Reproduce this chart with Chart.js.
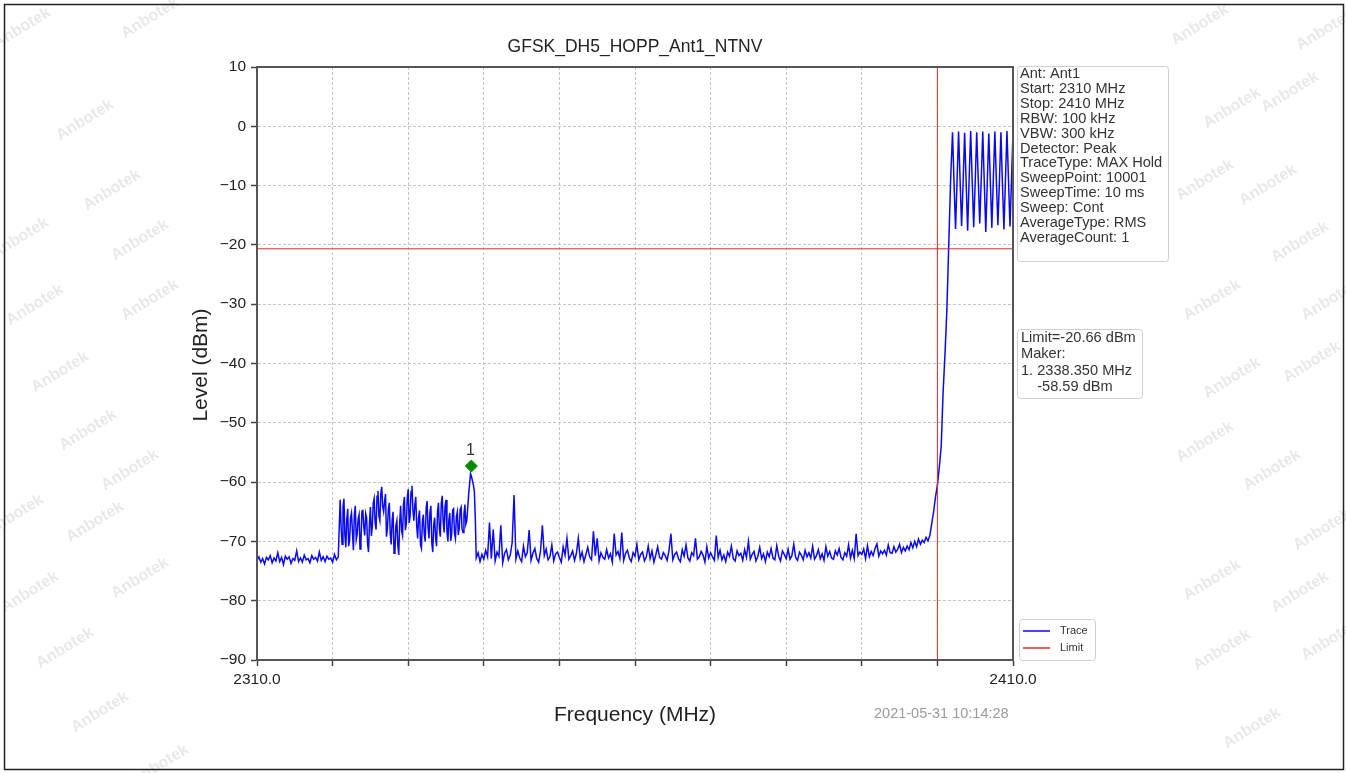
<!DOCTYPE html>
<html>
<head>
<meta charset="utf-8">
<script src="https://cdn.jsdelivr.net/npm/chart.js@4"></script>
<style>
html,body{margin:0;padding:0;background:#fff;}
canvas{display:block;}
</style>
</head>
<body>
<canvas id="c" width="1346" height="773"></canvas>
<script>
// ---------- DATA ----------
const chartTitle = "GFSK_DH5_HOPP_Ant1_NTNV";
const xTickEnds = [2310, 2410];
const yTicks = [10, 0, -10, -20, -30, -40, -50, -60, -70, -80, -90];

// Trace segments (spectrum sweep, evenly spaced within a segment)
const segFloorLowStart = 2310.0, segFloorLowStep = 0.25;
const segFloorLow = [-73.2,-72.6,-73.5,-72.9,-73.8,-72.7,-73.1,-72.4,-73.6,-72.8,-73.3,-71.9,-73.4,-72.7,-73.9,-72.5,-73.0,-72.6,-73.7,-72.9,-73.2,-71.6,-73.4,-72.8,-73.5,-72.3,-73.1,-72.9,-73.6,-72.4,-73.0,-72.7,-73.3,-71.8,-73.2,-72.6,-73.4,-72.5,-73.0,-72.8,-73.5,-72.2,-73.1,-72.6];

const segBandStart = 2321.0, segBandStep = 0.125;
const segBand = [
-63.0,-67.5,-70.5,-64.2,-62.8,-68.9,-71.0,-66.3,-64.5,-70.8,-69.8,-66.0,-65.2,-68.4,-71.5,-65.6,
-64.0,-69.7,-68.8,-66.2,-65.5,-71.3,-70.2,-64.9,-64.8,-67.6,-69.0,-65.3,-66.0,-70.4,-71.8,-67.0,
-64.2,-69.1,-67.5,-63.6,-62.8,-66.9,-68.0,-62.4,-61.5,-65.7,-66.5,-61.9,-60.8,-64.1,-65.0,-63.3,
-62.0,-69.2,-67.8,-64.6,-63.5,-68.7,-70.5,-66.4,-65.0,-72.0,-71.5,-67.3,-66.5,-70.6,-72.3,-66.8,
-64.0,-68.2,-69.0,-63.8,-62.5,-68.1,-67.0,-62.7,-61.2,-66.9,-65.8,-61.6,-60.6,-64.7,-66.5,-63.9,
-62.5,-67.4,-69.5,-65.9,-64.8,-70.6,-71.2,-66.7,-65.5,-68.8,-70.0,-64.4,-63.2,-67.7,-69.5,-65.1,
-64.0,-70.3,-71.8,-67.2,-66.0,-69.4,-70.8,-65.0,-63.5,-67.9,-69.2,-63.6,-62.3,-66.6,-68.5,-64.1,
-63.0,-68.3,-70.0,-66.4,-65.2,-69.9,-68.8,-64.7,-64.5,-68.6,-69.5,-65.8,-65.0,-68.9,-67.8,-64.6,
-64.2,-67.9,-68.5,-65.4,-63.8,-67.1,-66.5,-64.3,-62.0,-60.2,-58.6,-59.1,-59.8,-60.5,-61.5,-66.0];

const segFloorHighStart = 2339.0, segFloorHighStep = 0.25;
const segFloorHigh = [
-72.8,-71.9,-73.4,-72.2, -73.0,-71.5,-72.6,-66.8, -72.9,-68.0,-73.3,-71.8, -72.5,-67.3,-73.6,-72.0,
-71.4,-73.1,-72.3,-70.2, -62.2,-73.0,-71.6,-72.8, -73.4,-70.8,-72.6,-71.9, -68.1,-73.2,-72.0,-71.2,
-72.9,-73.5,-71.7,-67.3, -72.4,-71.3,-73.1,-72.6, -70.6,-73.3,-72.1,-71.8, -72.7,-73.5,-70.9,-72.3,
-69.5,-73.0,-72.4,-71.6, -73.2,-72.0,-69.5,-72.9, -71.8,-73.4,-72.2,-71.0, -72.6,-73.1,-68.3,-72.4,
-69.5,-73.3,-71.9,-72.7, -73.0,-71.4,-72.8,-72.1, -73.5,-68.7,-72.3,-71.7, -72.9,-68.5,-73.2,-72.0,
-71.5,-72.8,-73.4,-71.9, -72.5,-70.5,-73.1,-72.2, -71.8,-73.3,-72.6,-70.8, -72.9,-71.6,-73.5,-72.3,
-70.9,-72.7,-73.0,-71.9, -72.4,-73.2,-71.5,-68.7, -73.1,-72.2,-71.8,-72.9, -73.4,-71.4,-72.5,-70.6,
-72.8,-73.3,-71.9,-72.4, -69.5,-73.0,-72.6,-71.7, -72.3,-73.5,-70.9,-72.8, -71.9,-72.6,-73.2,-69.0,
-72.7,-71.5,-73.1,-72.3, -73.4,-71.8,-72.5,-70.8, -72.9,-73.3,-71.6,-72.4, -72.0,-73.2,-71.4,-72.7,
-70.0,-73.0,-72.2,-71.7, -73.3,-72.5,-71.0,-72.9, -72.1,-73.4,-71.8,-72.6, -71.2,-72.8,-73.1,-70.7,
-72.5,-73.3,-71.6,-72.2, -72.9,-71.3,-73.0,-72.4, -70.5,-72.7,-73.2,-71.8, -72.3,-73.1,-71.5,-72.6,
-71.9,-72.8,-70.8,-73.0, -72.4,-71.4,-72.9,-72.1, -73.2,-70.9,-72.5,-71.7, -72.8,-73.0,-71.6,-72.3,
-71.2,-72.7,-73.1,-71.9, -72.5,-70.6,-72.8,-71.5, -72.9,-68.7,-72.4,-71.8, -72.2,-71.3,-72.9,-70.7,
-72.6,-71.7,-72.4,-71.2, -70.4,-72.5,-71.6,-72.1, -71.5,-72.3,-70.6,-71.9, -72.0,-70.9,-71.8,-71.3,
-70.5,-71.9,-71.0,-71.6, -70.8,-71.4,-70.2,-71.1, -70.0,-70.9,-69.6,-70.5, -69.8,-70.2,-69.3,-69.9];

const segRampStart = 2399.0, segRampStep = 0.25;
const segRamp = [-69.0,-67.0,-65.0,-62.5,-60.5,-57.5,-54.0,-45.0,-38.5,-31.0,-20.0,-9.0];

const segHopStart = 2402.0, segHopStep = 0.2;
const segHop = [
-1.0,-9.5,-17.3,-9.2, -0.9,-9.0,-16.8,-9.6, -1.1,-9.3,-17.6,-8.9, -0.8,-9.1,-17.0,-9.4,
-1.0,-8.8,-16.4,-9.0, -0.9,-9.4,-17.8,-9.3, -1.2,-9.2,-17.1,-8.8, -0.9,-9.0,-16.7,-9.5,
-1.0,-9.6,-17.4,-9.1, -0.8,-8.9,-16.9,-9.2, -1.0];

const limitLevel = -20.66;
const limitFreq = 2400;
const markerFreq = 2338.35;
const markerPlotLevel = -57.3;
const markerLabel = "1";

const infoLines = ["Ant: Ant1","Start: 2310 MHz","Stop: 2410 MHz","RBW: 100 kHz","VBW: 300 kHz","Detector: Peak","TraceType: MAX Hold","SweepPoint: 10001","SweepTime: 10 ms","Sweep: Cont","AverageType: RMS","AverageCount: 1"];
const limitInfoLines = ["Limit=-20.66 dBm","Maker:","1. 2338.350 MHz","    -58.59 dBm"];
const timestamp = "2021-05-31 10:14:28";
const watermarkPos = [[22,28],[150,18],[85,120],[112,190],[20,238],[140,240],[35,305],[150,300],[60,372],[88,430],[15,515],[130,470],[95,522],[140,578],[30,592],[65,648],[100,712],[160,765],
[1200,25],[1325,30],[1232,108],[1290,92],[1268,185],[1205,180],[1300,242],[1212,300],[1330,300],[1232,378],[1312,362],[1205,442],[1272,470],[1322,530],[1212,580],[1300,592],[1222,650],[1330,640],[1252,728]];

// ---------- BUILD ----------
function seg(start, step, vals){ return vals.map((v,i)=>({x:+(start+i*step).toFixed(3), y:v})); }
const traceData = [].concat(
  seg(segFloorLowStart, segFloorLowStep, segFloorLow),
  seg(segBandStart, segBandStep, segBand),
  seg(segFloorHighStart, segFloorHighStep, segFloorHigh),
  seg(segRampStart, segRampStep, segRamp),
  seg(segHopStart, segHopStep, segHop)
);

const FONT = "'Liberation Sans', Arial, sans-serif";
const BLUE = '#0a0af0', RED = '#e02828', GREEN = '#008a00';

const decor = {
  id:'decor',
  beforeDraw(chart){
    const ctx = chart.ctx;
    ctx.save();
    ctx.fillStyle = '#fff';
    ctx.fillRect(0,0,chart.width,chart.height);
    ctx.font = "bold 16px " + FONT;
    ctx.fillStyle = 'rgba(190,190,190,0.35)';
    ctx.textAlign='center'; ctx.textBaseline='middle';
    watermarkPos.forEach(([x,y])=>{
      ctx.save(); ctx.translate(x,y); ctx.rotate(-0.55); ctx.fillText('Anbotek',0,0); ctx.restore();
    });
    ctx.restore();
  },
  afterDraw(chart){
    const ctx = chart.ctx, a = chart.chartArea;
    const xs = chart.scales.x, ys = chart.scales.y;
    ctx.save();
    // frame
    ctx.strokeStyle = '#555'; ctx.lineWidth = 2;
    ctx.strokeRect(a.left, a.top, a.right-a.left, a.bottom-a.top);
    // outer border
    ctx.strokeStyle = '#222'; ctx.lineWidth = 1.5;
    ctx.strokeRect(4.5, 4.5, 1339, 765);
    // title
    ctx.fillStyle = '#222'; ctx.textAlign='center'; ctx.textBaseline='middle';
    ctx.font = "17.5px " + FONT;
    ctx.fillText(chartTitle, (a.left+a.right)/2, 47);
    // axis titles
    ctx.font = "21px " + FONT;
    ctx.fillText("Frequency (MHz)", (a.left+a.right)/2, 715);
    ctx.save(); ctx.translate(201, 365); ctx.rotate(-Math.PI/2); ctx.fillText("Level (dBm)",0,0); ctx.restore();
    // timestamp
    ctx.font = "14.5px " + FONT; ctx.fillStyle = '#9a9a9a'; ctx.textAlign='left';
    ctx.fillText(timestamp, 874, 714);
    // marker label
    ctx.fillStyle = '#333'; ctx.textAlign='center'; ctx.font = "16px " + FONT;
    ctx.fillText(markerLabel, xs.getPixelForValue(markerFreq)-1, ys.getPixelForValue(markerPlotLevel)-15);
    // info box
    function box(x,y,w,h){
      ctx.save(); ctx.strokeStyle='#cfcfcf'; ctx.lineWidth=1; ctx.fillStyle='rgba(255,255,255,0.9)';
      ctx.beginPath(); ctx.roundRect(x+0.5,y+0.5,w,h,3); ctx.fill(); ctx.stroke(); ctx.restore();
    }
    box(1017,66,151,195);
    ctx.fillStyle='#333'; ctx.textAlign='left'; ctx.font="14.6px " + FONT;
    infoLines.forEach((t,i)=>ctx.fillText(t,1020,74+i*14.9));
    box(1017,329,125,69);
    limitInfoLines.forEach((t,i)=>ctx.fillText(t,1021,338+i*16.3));
    // legend
    box(1019,619,76,41);
    ctx.lineWidth=1.5;
    ctx.strokeStyle=BLUE; ctx.beginPath(); ctx.moveTo(1023,631); ctx.lineTo(1050,631); ctx.stroke();
    ctx.strokeStyle=RED; ctx.beginPath(); ctx.moveTo(1023,648); ctx.lineTo(1050,648); ctx.stroke();
    ctx.font="11px " + FONT; ctx.fillStyle='#333';
    ctx.fillText("Trace",1060,631); ctx.fillText("Limit",1060,648);
    ctx.restore();
  }
};

new Chart(document.getElementById('c'), {
  type:'scatter',
  data:{datasets:[
    {label:'Trace', data:traceData, showLine:true, borderColor:BLUE, borderWidth:1.5, pointRadius:0, order:3},
    {label:'Limit', data:[{x:xTickEnds[0],y:limitLevel},{x:xTickEnds[1],y:limitLevel}], showLine:true, borderColor:RED, borderWidth:1, pointRadius:0, order:2},
    {label:'LimitV', data:[{x:limitFreq,y:yTicks[yTicks.length-1]},{x:limitFreq,y:yTicks[0]}], showLine:true, borderColor:RED, borderWidth:1, pointRadius:0, order:2},
    {label:'Marker', data:[{x:markerFreq,y:markerPlotLevel}], pointStyle:'rectRot', pointRadius:6, backgroundColor:GREEN, borderColor:GREEN, order:1}
  ]},
  options:{
    responsive:false, animation:false, devicePixelRatio:1,
    layout:{padding:{left:0, top:67, right:333, bottom:0}},
    plugins:{legend:{display:false}, tooltip:{enabled:false}, title:{display:false}},
    scales:{
      x:{type:'linear', min:xTickEnds[0], max:xTickEnds[1],
        afterFit(s){ s.height = 113; },
        ticks:{stepSize:10, autoSkip:false, maxRotation:0, padding:4, color:'#222', font:{family:FONT, size:15.5},
          callback:(v)=> (xTickEnds.includes(v) ? v.toFixed(1) : '')},
        grid:{color:'#c4c4c4', lineWidth:1, tickLength:6, tickColor:'#444', tickWidth:1.5, tickBorderDash:[]},
        border:{display:true, color:'#555', width:2, dash:[3,2]}
      },
      y:{type:'linear', min:-90, max:10,
        afterFit(s){ s.width = 257; },
        afterBuildTicks(s){ s.ticks = yTicks.slice().reverse().map(v=>({value:v})); },
        ticks:{padding:5, color:'#222', font:{family:FONT, size:15.5},
          callback:(v)=> String(v).replace('-', '\u2212')},
        grid:{color:'#c4c4c4', lineWidth:1, tickLength:6, tickColor:'#444', tickWidth:1.5, tickBorderDash:[]},
        border:{display:true, color:'#555', width:2, dash:[3,2]}
      }
    }
  },
  plugins:[decor]
});
</script>
</body>
</html>
